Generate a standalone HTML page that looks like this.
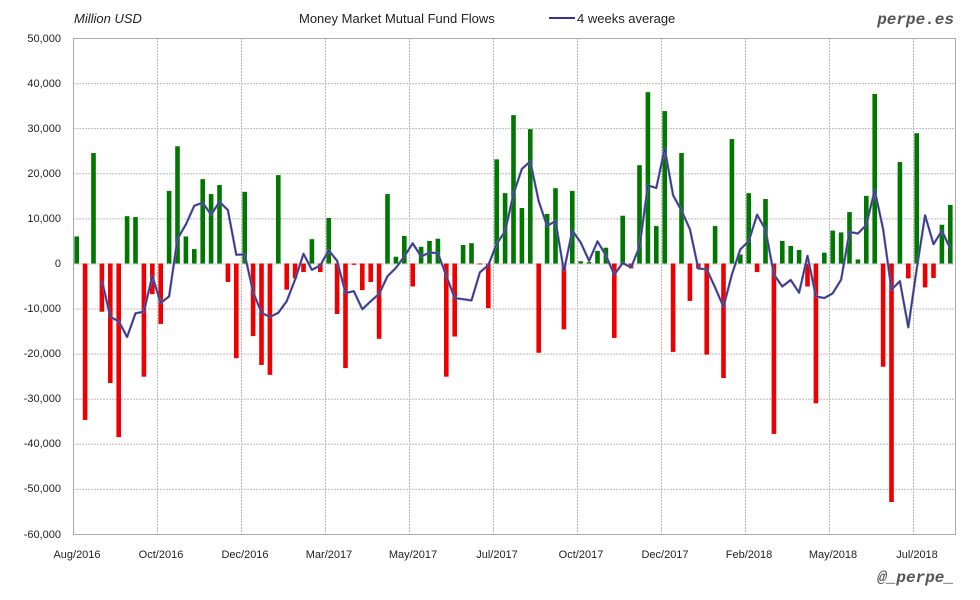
<!DOCTYPE html>
<html><head><meta charset="utf-8"><style>
html,body{margin:0;padding:0;background:#fff;}
svg{display:block;font-family:"Liberation Sans",sans-serif;}
</style></head><body>
<svg id="c" width="980" height="600" viewBox="0 0 980 600" xmlns="http://www.w3.org/2000/svg">
<rect x="0" y="0" width="980" height="600" fill="#fff"/>
<g id="grid" stroke="#bbb" stroke-width="1" stroke-dasharray="2,1"></g>
<g id="bars"></g>
<polyline id="avg" fill="none" stroke="#6666aa" stroke-width="2.4" stroke-linejoin="round"/>
<polyline id="avg2" fill="none" stroke="#2a2a80" stroke-width="0.9" stroke-linejoin="round"/>
<rect x="73.5" y="38.5" width="882" height="496" fill="none" stroke="#aaa" stroke-width="1"/>
<g font-size="11" fill="#222" text-anchor="end">
<text x="61" y="42">50,000</text>
<text x="61" y="87">40,000</text>
<text x="61" y="132">30,000</text>
<text x="61" y="177">20,000</text>
<text x="61" y="222">10,000</text>
<text x="61" y="267">0</text>
<text x="61" y="312">-10,000</text>
<text x="61" y="357">-20,000</text>
<text x="61" y="402">-30,000</text>
<text x="61" y="447">-40,000</text>
<text x="61" y="492">-50,000</text>
<text x="61" y="538">-60,000</text>
</g>
<g font-size="11" fill="#222" text-anchor="middle">
<text x="77" y="558">Aug/2016</text>
<text x="161" y="558">Oct/2016</text>
<text x="245" y="558">Dec/2016</text>
<text x="329" y="558">Mar/2017</text>
<text x="413" y="558">May/2017</text>
<text x="497" y="558">Jul/2017</text>
<text x="581" y="558">Oct/2017</text>
<text x="665" y="558">Dec/2017</text>
<text x="749" y="558">Feb/2018</text>
<text x="833" y="558">May/2018</text>
<text x="917" y="558">Jul/2018</text>
</g>
<text x="74" y="23" font-size="13" font-style="italic" fill="#222">Million USD</text>
<text x="299" y="23" font-size="13" fill="#222">Money Market Mutual Fund Flows</text>
<line x1="549" y1="18" x2="575" y2="18" stroke="#333399" stroke-width="2"/>
<text x="577" y="23" font-size="13" fill="#222">4 weeks average</text>
<text x="954" y="24" font-size="16" font-weight="bold" font-style="italic" fill="#555" text-anchor="end" font-family="Liberation Mono,monospace">perpe.es</text>
<text x="954" y="582" font-size="16" font-weight="bold" font-style="italic" fill="#555" text-anchor="end" font-family="Liberation Mono,monospace">@_perpe_</text>
</svg>
<script>
var v=[6000,-34700,24500,-10700,-26500,-38500,10500,10300,-25100,-6800,-13400,16100,26000,6000,3200,18700,15400,17400,-4100,-21000,15900,-16100,-22500,-24700,19600,-5800,-3300,-1900,5400,-1900,10100,-11200,-23200,-300,-5900,-4100,-16700,15400,1500,6100,-5100,3700,5000,5500,-25100,-16200,4100,4500,-200,-9900,23100,15600,32900,12300,29800,-19800,11000,16700,-14600,16100,500,300,2800,3500,-16500,10600,-1100,21800,38000,8300,33800,-19600,24500,-8300,-1100,-20200,8300,-25400,27600,2000,15600,-1900,14300,-37800,5000,3900,3000,-5100,-31000,2400,7300,6900,11400,900,15000,37600,-22900,-52900,22500,-3300,28900,-5300,-3200,8600,13000];
var NS="http://www.w3.org/2000/svg",k=4.509,z=263.5;
var g=document.getElementById('grid');
for(var i=1;i<=10;i++){var l=document.createElementNS(NS,'line');var x=73.5+84*i;l.setAttribute('x1',x);l.setAttribute('x2',x);l.setAttribute('y1',38);l.setAttribute('y2',534);g.appendChild(l);}
for(var j=1;j<11;j++){var l=document.createElementNS(NS,'line');var y=38.5+j*45.09;l.setAttribute('x1',73);l.setAttribute('x2',955);l.setAttribute('y1',y);l.setAttribute('y2',y);g.appendChild(l);}
var b=document.getElementById('bars'),pts=[];
for(var i=0;i<v.length;i++){var x=76.7+8.4*i,h=Math.abs(v[i])/1000*k;var r=document.createElementNS(NS,'rect');r.setAttribute('x',x-2.3);r.setAttribute('width',4.6);r.setAttribute('y',v[i]>0?z-h:z);r.setAttribute('height',h);r.setAttribute('fill',v[i]>0?'#007700':'#ee0000');b.appendChild(r);
if(i>=3){var a=(v[i]+v[i-1]+v[i-2]+v[i-3])/4;pts.push(x.toFixed(1)+','+(z-a/1000*k).toFixed(1));}}
document.getElementById('avg').setAttribute('points',pts.join(' '));
document.getElementById('avg2').setAttribute('points',pts.join(' '));
</script>
</body></html>
